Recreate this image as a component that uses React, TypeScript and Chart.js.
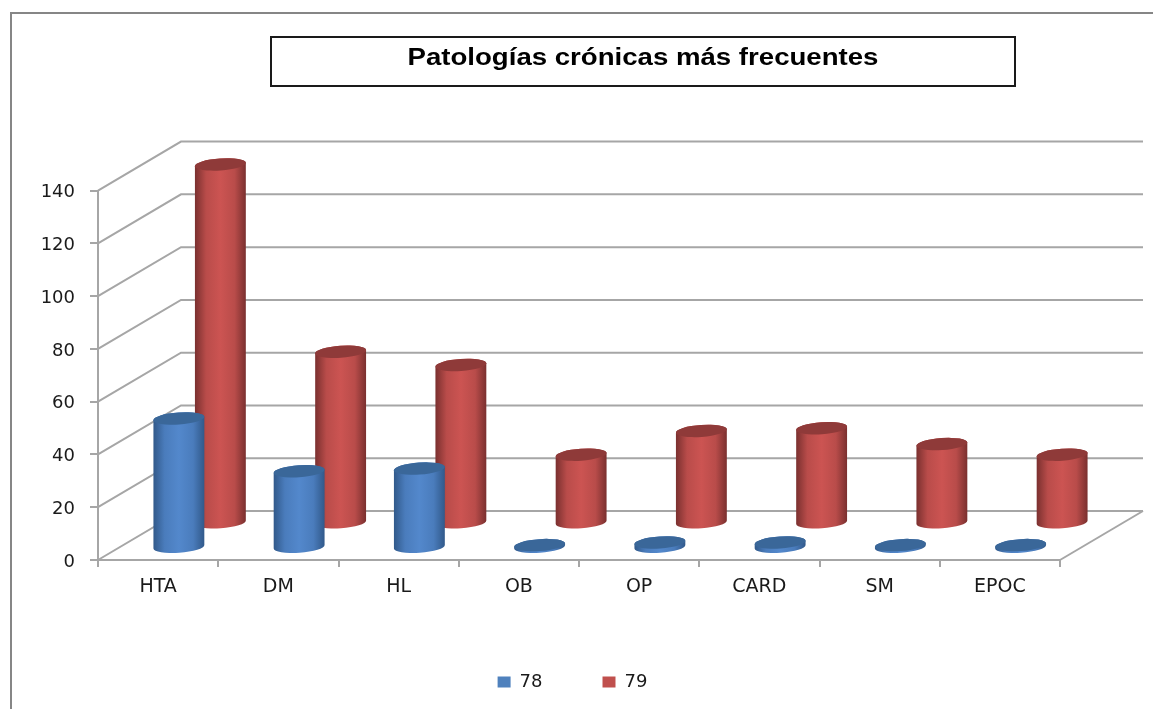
import React, { useEffect, useRef } from "react";
import { Chart, registerables } from "chart.js";

Chart.register(...registerables);

const categories = ["HTA", "DM", "HL", "OB", "OP", "CARD", "SM", "EPOC"];
const series78 = [49, 29, 30, 1, 2, 2, 1, 1];
const series79 = [136, 65, 60, 26, 35, 36, 30, 26];
const titleText = "Patologías crónicas más frecuentes";

const DEPTH_X = 83;
const DEPTH_Y = 49;
const GRID = "#a6a6a6";
const FONT = "'DejaVu Sans'";
const TITLE_STRETCH = 1.2;

const looks: Record<string, any> = {
  "78": { depth: 0.25, edge: "#31598a", mid: "#4a7cbc", light: "#5388cc", cap: "#3a6799" },
  "79": { depth: 0.75, edge: "#7a302f", mid: "#b94c4a", light: "#cc5452", cap: "#8f3a39" },
};

function cylinder(ctx: CanvasRenderingContext2D, el: any, look: any) {
  const cx = el.x + DEPTH_X * look.depth;
  const rx = el.width / 2;
  const ry = 6;
  const rot = (-4 * Math.PI) / 180;
  const top = el.y - DEPTH_Y * look.depth;
  const base = el.base - DEPTH_Y * look.depth;
  const g = ctx.createLinearGradient(cx - rx, 0, cx + rx, 0);
  g.addColorStop(0, look.edge);
  g.addColorStop(0.22, look.mid);
  g.addColorStop(0.5, look.light);
  g.addColorStop(0.78, look.mid);
  g.addColorStop(1, look.edge);
  ctx.beginPath();
  ctx.ellipse(cx, base, rx, ry, rot, 0, Math.PI, false);
  ctx.ellipse(cx, top, rx, ry, rot, Math.PI, 2 * Math.PI, false);
  ctx.closePath();
  ctx.fillStyle = g;
  ctx.fill();
  ctx.beginPath();
  ctx.ellipse(cx, top, rx, ry, rot, 0, 2 * Math.PI);
  ctx.fillStyle = look.cap;
  ctx.fill();
}

const scene = {
  id: "scene",
  afterLayout(chart: any) {
    const tb = chart.titleBlock;
    if (tb) {
      tb.left = 271;
      tb.right = 1015;
      if (!tb.__stretched) {
        tb.__stretched = true;
        const original = tb.draw.bind(tb);
        tb.draw = () => {
          const ctx = chart.ctx as CanvasRenderingContext2D;
          const mid = (tb.left + tb.right) / 2;
          ctx.save();
          ctx.translate(mid, 0);
          ctx.scale(TITLE_STRETCH, 1);
          ctx.translate(-mid, 0);
          original();
          ctx.restore();
        };
      }
    }
  },
  beforeDraw(chart: any) {
    const ctx = chart.ctx as CanvasRenderingContext2D;
    ctx.save();
    ctx.fillStyle = "#fff";
    ctx.fillRect(0, 0, chart.width, chart.height);
    ctx.strokeStyle = "#868686";
    ctx.lineWidth = 2;
    ctx.beginPath();
    ctx.moveTo(11, chart.height);
    ctx.lineTo(11, 13);
    ctx.lineTo(chart.width, 13);
    ctx.stroke();
    ctx.strokeStyle = "#1a1a1a";
    ctx.strokeRect(271, 37, 744, 49);
    ctx.restore();
  },
  beforeDatasetsDraw(chart: any) {
    const ctx = chart.ctx as CanvasRenderingContext2D;
    const { x, y } = chart.scales;
    ctx.save();
    ctx.strokeStyle = GRID;
    ctx.lineWidth = 2;
    y.ticks.forEach((t: any) => {
      const py = y.getPixelForValue(t.value);
      ctx.beginPath();
      ctx.moveTo(x.left, py);
      ctx.lineTo(x.left + DEPTH_X, py - DEPTH_Y);
      ctx.lineTo(x.right + DEPTH_X, py - DEPTH_Y);
      ctx.stroke();
    });
    const p0 = y.getPixelForValue(0);
    ctx.beginPath();
    ctx.moveTo(x.right, p0);
    ctx.lineTo(x.right + DEPTH_X, p0 - DEPTH_Y);
    ctx.stroke();
    [1, 0].forEach((di) => {
      const ds = chart.data.datasets[di];
      chart.getDatasetMeta(di).data.forEach((el: any) => cylinder(ctx, el, looks[ds.label]));
    });
    ctx.restore();
  },
  beforeDatasetDraw() {
    return false;
  },
};

export default function App() {
  const ref = useRef<HTMLCanvasElement>(null);
  useEffect(() => {
    const chart = new Chart(ref.current as HTMLCanvasElement, {
      type: "bar",
      data: {
        labels: categories,
        datasets: [
          { label: "78", data: series78, backgroundColor: "#4f81bd", barThickness: 51, grouped: false },
          { label: "79", data: series79, backgroundColor: "#c0504d", barThickness: 51, grouped: false },
        ],
      } as any,
      options: {
        animation: false,
        responsive: false,
        layout: { padding: { top: 0, bottom: 8, left: 0, right: 8 } },
        scales: {
          x: {
            position: "bottom",
            afterFit: (s: any) => { s.height = 53; },
            border: { color: GRID, width: 2 },
            grid: { drawOnChartArea: false, drawTicks: true, tickLength: 7, color: GRID, lineWidth: 2 },
            ticks: { font: { family: FONT, size: 19 }, color: "#1a1a1a", padding: 9, maxRotation: 0 },
          },
          y: {
            position: "left",
            min: 0,
            max: 140,
            afterFit: (s: any) => { s.width = 98; },
            border: { color: GRID, width: 2 },
            grid: { drawOnChartArea: false, drawTicks: true, tickLength: 8, color: GRID, lineWidth: 2 },
            ticks: { stepSize: 20, font: { family: FONT, size: 18 }, color: "#1a1a1a", padding: 15, labelOffset: 2 },
          },
          spacer: {
            position: "right",
            axis: "y",
            min: 0,
            max: 1,
            afterFit: (s: any) => { s.width = 85; },
            border: { display: false },
            grid: { display: false },
            ticks: { display: false },
          },
        },
        plugins: {
          title: {
            display: true,
            text: titleText,
            color: "#000",
            font: { family: "'Liberation Sans'", size: 23, weight: "bold" },
            padding: { top: 45, bottom: 118 },
          },
          legend: {
            display: true,
            position: "bottom",
            labels: {
              boxWidth: 13,
              boxHeight: 11,
              padding: 60,
              color: "#1a1a1a",
              font: { family: FONT, size: 18 },
            },
          },
          tooltip: { enabled: false },
        },
      } as any,
      plugins: [scene],
    });
    return () => chart.destroy();
  }, []);
  return (
    <canvas
      ref={ref}
      width={1153}
      height={709}
      style={{ position: "absolute", left: 0, top: 0, display: "block" }}
    />
  );
}
